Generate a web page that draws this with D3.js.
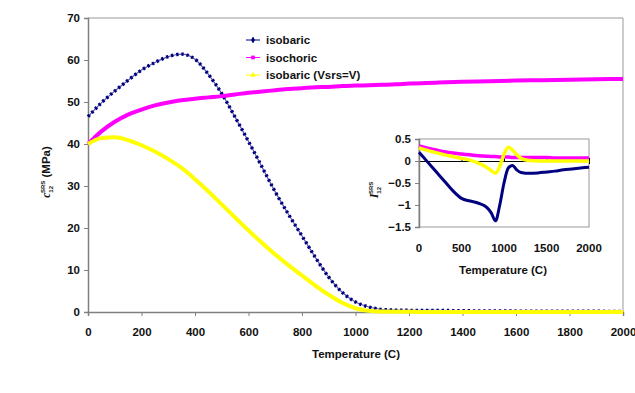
<!DOCTYPE html>
<html>
<head>
<meta charset="utf-8">
<script src="https://cdn.jsdelivr.net/npm/d3@7"></script>
<style>
  body { margin: 0; background: #fff; }
  text { font-family: "Liberation Sans", Arial, sans-serif; font-weight: bold; fill: #111; }
</style>
</head>
<body>
<div id="chart"></div>
<script>
// main chart data (temperature in C, c12 SRS in MPa)
const mainTemps = [0, 50, 100, 150, 200, 250, 300, 350, 400, 450, 500, 550, 600, 650, 700, 750, 800, 850, 900, 950,
    1000, 1050, 1100, 1150, 1200, 1300, 1400, 1500, 1600, 1700, 1800, 1900, 2000];
const isobaric = [46.5, 49.8, 52.6, 55.2, 57.6, 59.4, 60.8, 61.4, 60.2, 56.6, 52, 46.4, 40.6, 34.6, 28.6, 23.2, 18.1, 13, 8.3, 4.7,
    2.4, 1.2, 0.6, 0.45, 0.4, 0.38, 0.3, 0.25, 0.22, 0.2, 0.2, 0.18, 0.1];
const isochoric = [40, 43, 45.3, 47, 48.2, 49.2, 49.9, 50.4, 50.8, 51.1, 51.4, 51.8, 52.2, 52.5, 52.8, 53.1, 53.3, 53.5, 53.6, 53.8,
    53.9, 54, 54.1, 54.2, 54.4, 54.6, 54.8, 54.95, 55.1, 55.2, 55.3, 55.4, 55.5];
const isobaricV = [40, 41.4, 41.6, 40.9, 39.7, 38.2, 36.4, 34.3, 31.6, 28.7, 25.6, 22.5, 19.4, 16.5, 13.7, 11.1, 8.7, 6.3, 4.1, 2.2,
    0.9, 0.3, 0.1, 0.05, 0.03, 0.02, 0.02, 0.02, 0.02, 0.02, 0.02, 0.02, 0.02];

// inset data (I12 SRS)
const insetTemps = [0, 100, 200, 300, 400, 500, 600, 700, 800, 850, 900, 950, 1000, 1050, 1100, 1150, 1200, 1300, 1400,
    1500, 1600, 1700, 1800, 1900, 2000];
const insetIsobaric = [0.2, -0.02, -0.24, -0.46, -0.68, -0.85, -0.91, -0.96, -1.06, -1.18, -1.36, -1.0, -0.5, -0.16, -0.1, -0.2, -0.26, -0.28,
    -0.27, -0.25, -0.23, -0.2, -0.18, -0.16, -0.14];
const insetIsochoric = [0.34, 0.29, 0.25, 0.21, 0.18, 0.16, 0.14, 0.12, 0.11, 0.1, 0.1, 0.09, 0.09, 0.09, 0.08, 0.08, 0.08, 0.08, 0.08,
    0.08, 0.07, 0.07, 0.07, 0.07, 0.07];
const insetIsobaricV = [0.3, 0.24, 0.19, 0.14, 0.1, 0.06, 0.02, -0.05, -0.15, -0.22, -0.28, -0.12, 0.15, 0.31, 0.25, 0.14, 0.06, 0.01, 0,
    0, 0, 0, 0, 0, 0];

const mainXTicks = [0, 200, 400, 600, 800, 1000, 1200, 1400, 1600, 1800, 2000];
const mainYTicks = [0, 10, 20, 30, 40, 50, 60, 70];
const insetXTicks = [0, 500, 1000, 1500, 2000];
const insetYTicks = [-1.5, -1, -0.5, 0, 0.5];
const legendLabels = ['isobaric', 'isochoric', 'isobaric (Vsrs=V)'];

const width = 635, height = 393;
const svg = d3.select('#chart').append('svg')
    .attr('width', width)
    .attr('height', height);

const x = d3.scaleLinear().domain([0, 2000]).range([88, 623]);
const y = d3.scaleLinear().domain([0, 70]).range([312, 18]);

// plot frame (top + right)
svg.append('path')
    .attr('d', `M${x(0)},${y(70)}H${x(2000)}V${y(0)}`)
    .attr('fill', 'none')
    .attr('stroke', '#999')
    .attr('stroke-width', 1);

// Add axes
const xAxis = svg.append('g')
    .attr('transform', `translate(0,${y(0)})`)
    .call(d3.axisBottom(x).tickValues(mainXTicks).tickSize(4).tickPadding(12).tickFormat(d3.format('d')));
const yAxis = svg.append('g')
    .attr('transform', `translate(${x(0)},0)`)
    .call(d3.axisLeft(y).tickValues(mainYTicks).tickSize(4).tickPadding(4));

[xAxis, yAxis].forEach(a => {
    a.select('.domain').attr('stroke', '#808080').attr('stroke-width', 1.5);
    a.selectAll('.tick line').attr('stroke', '#808080');
    a.selectAll('.tick text').attr('font-size', 11.5).attr('font-family', '"Liberation Sans", Arial, sans-serif')
        .attr('font-weight', 'bold').attr('fill', '#111');
});

// Add lines
const mainLine = vals => d3.line()
    .x((d, i) => x(mainTemps[i]))
    .y(d => y(d))
    .curve(d3.curveMonotoneX)(vals);

svg.append('path')
    .attr('d', mainLine(isobaric))
    .attr('fill', 'none')
    .attr('stroke', '#5858a8')
    .attr('stroke-width', 1.2);
svg.append('path')
    .attr('d', mainLine(isobaric))
    .attr('fill', 'none')
    .attr('stroke', '#000080')
    .attr('stroke-width', 3.4)
    .attr('stroke-dasharray', '2.4,2.8');

svg.append('path')
    .attr('d', mainLine(isochoric))
    .attr('fill', 'none')
    .attr('stroke', '#FF00FF')
    .attr('stroke-width', 4);

svg.append('path')
    .attr('d', mainLine(isobaricV))
    .attr('fill', 'none')
    .attr('stroke', '#FFFF00')
    .attr('stroke-width', 4);

// Add labels
svg.append('text')
    .attr('x', 356)
    .attr('y', 358)
    .attr('text-anchor', 'middle')
    .attr('font-size', 11.5)
    .text('Temperature (C)');

const yTitle = svg.append('text')
    .attr('transform', 'translate(50,172) rotate(-90)')
    .attr('text-anchor', 'middle')
    .attr('font-size', 11.5);
yTitle.append('tspan').attr('font-family', '"Liberation Serif", serif').attr('font-style', 'italic').text('c');
yTitle.append('tspan').attr('font-size', 6).attr('dy', 3).text('12');
yTitle.append('tspan').attr('font-size', 6).attr('dx', -7).attr('dy', -8).text('SRS');
yTitle.append('tspan').attr('dy', 5).text(' (MPa)');

// Add legend
const legendColors = ['#000080', '#FF00FF', '#FFFF00'];
const legend = svg.selectAll('.legend')
    .data(legendLabels)
    .enter()
    .append('g')
    .attr('class', 'legend')
    .attr('transform', (d, i) => `translate(246,${40 + i * 17.5})`);

legend.append('line')
    .attr('x1', 0).attr('x2', 14)
    .attr('stroke', (d, i) => legendColors[i])
    .attr('stroke-width', 1);
legend.append('path')
    .attr('transform', 'translate(7,0)')
    .attr('d', (d, i) => d3.symbol().type([d3.symbolDiamond, d3.symbolSquare, d3.symbolTriangle][i]).size(14)())
    .attr('fill', (d, i) => legendColors[i]);
legend.append('text')
    .attr('x', 20)
    .attr('y', 4)
    .attr('font-size', 11.5)
    .text(d => d);

// inset chart
const ix = d3.scaleLinear().domain([0, 2000]).range([419, 589]);
const iy = d3.scaleLinear().domain([-1.5, 0.5]).range([227, 139]);

svg.append('rect')
    .attr('x', ix(0))
    .attr('y', iy(0.5))
    .attr('width', ix(2000) - ix(0))
    .attr('height', iy(-1.5) - iy(0.5))
    .attr('fill', '#fff')
    .attr('stroke', '#999');

const ixAxis = svg.append('g')
    .attr('transform', `translate(0,${iy(0)})`)
    .call(d3.axisBottom(ix).tickValues(insetXTicks).tickSize(3).tickFormat(''));
ixAxis.select('.domain').attr('stroke', '#000');
ixAxis.selectAll('.tick line').attr('stroke', '#000').attr('y1', -3).attr('y2', 0);

svg.append('g')
    .selectAll('text')
    .data(insetXTicks)
    .enter()
    .append('text')
    .attr('x', d => ix(d))
    .attr('y', 252)
    .attr('text-anchor', 'middle')
    .attr('font-size', 11.5)
    .text(d => d);

const iyAxis = svg.append('g')
    .attr('transform', `translate(${ix(0)},0)`)
    .call(d3.axisLeft(iy).tickValues(insetYTicks).tickSize(4).tickPadding(4).tickFormat(d3.format('')));
iyAxis.select('.domain').attr('stroke', '#808080').attr('stroke-width', 1.5);
iyAxis.selectAll('.tick line').attr('stroke', '#808080');
iyAxis.selectAll('.tick text').attr('font-size', 11.5).attr('font-family', '"Liberation Sans", Arial, sans-serif')
    .attr('font-weight', 'bold').attr('fill', '#111');

const insetLine = vals => d3.line()
    .x((d, i) => ix(insetTemps[i]))
    .y(d => iy(d))
    .curve(d3.curveMonotoneX)(vals);

svg.append('path')
    .attr('d', insetLine(insetIsobaric))
    .attr('fill', 'none')
    .attr('stroke', '#000080')
    .attr('stroke-width', 3);
svg.append('path')
    .attr('d', insetLine(insetIsochoric))
    .attr('fill', 'none')
    .attr('stroke', '#FF00FF')
    .attr('stroke-width', 3.5);
svg.append('path')
    .attr('d', insetLine(insetIsobaricV))
    .attr('fill', 'none')
    .attr('stroke', '#FFFF00')
    .attr('stroke-width', 3.5);

svg.append('text')
    .attr('x', 503)
    .attr('y', 274)
    .attr('text-anchor', 'middle')
    .attr('font-size', 11.5)
    .text('Temperature (C)');

const iyTitle = svg.append('text')
    .attr('transform', 'translate(378,190) rotate(-90)')
    .attr('text-anchor', 'middle')
    .attr('font-size', 12);
iyTitle.append('tspan').attr('font-family', '"Liberation Serif", serif').attr('font-style', 'italic').text('I');
iyTitle.append('tspan').attr('font-size', 6).attr('dy', 3).text('12');
iyTitle.append('tspan').attr('font-size', 6).attr('dx', -7).attr('dy', -8).text('SRS');
</script>
</body>
</html>
